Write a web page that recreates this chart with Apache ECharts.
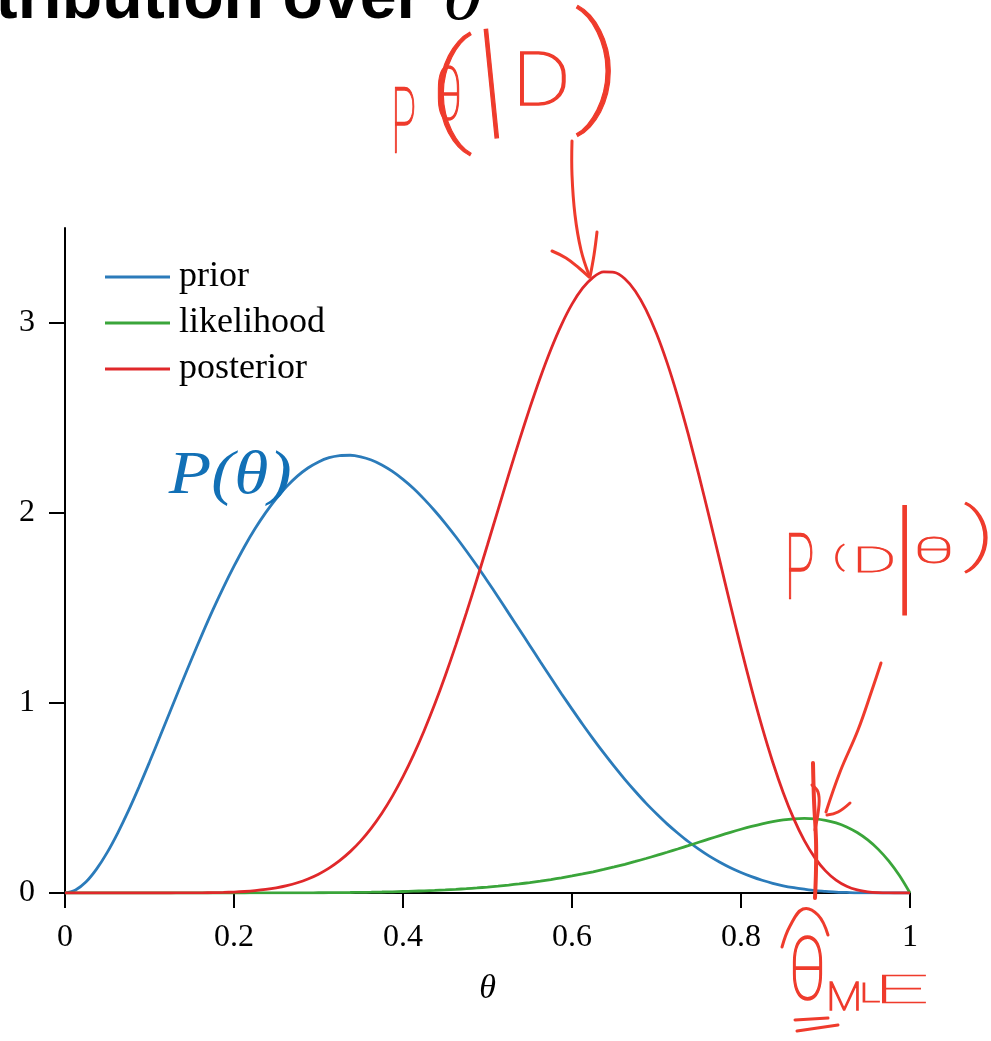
<!DOCTYPE html>
<html>
<head>
<meta charset="utf-8">
<script src="https://cdn.jsdelivr.net/npm/echarts@6/dist/echarts.min.js"></script>
<style>
  html, body { margin: 0; padding: 0; background: #ffffff; }
  #chart { width: 991px; height: 1041px; }
</style>
</head>
<body>
<div id="chart"></div>
<script>
// Sample positions along θ (one row per 0.1) and the three densities read at each of them
const theta = [
  0, 0.0125, 0.025, 0.0375, 0.05, 0.0625, 0.075, 0.0875,
  0.1, 0.1125, 0.125, 0.1375, 0.15, 0.1625, 0.175, 0.1875,
  0.2, 0.2125, 0.225, 0.2375, 0.25, 0.2625, 0.275, 0.2875,
  0.3, 0.3125, 0.325, 0.3375, 0.35, 0.3625, 0.375, 0.3875,
  0.4, 0.4125, 0.425, 0.4375, 0.45, 0.4625, 0.475, 0.4875,
  0.5, 0.5125, 0.525, 0.5375, 0.55, 0.5625, 0.575, 0.5875,
  0.6, 0.6125, 0.625, 0.6375, 0.65, 0.6625, 0.675, 0.6875,
  0.7, 0.7125, 0.725, 0.7375, 0.75, 0.7625, 0.775, 0.7875,
  0.8, 0.8125, 0.825, 0.8375, 0.85, 0.8625, 0.875, 0.8875,
  0.9, 0.9125, 0.925, 0.9375, 0.95, 0.9625, 0.975, 0.9875,
  1];

const prior = [
  0, 0.016, 0.059, 0.127, 0.214, 0.317, 0.432, 0.557,
  0.689, 0.825, 0.962, 1.099, 1.233, 1.364, 1.490, 1.609,
  1.720, 1.824, 1.918, 2.002, 2.076, 2.140, 2.194, 2.237,
  2.269, 2.291, 2.302, 2.304, 2.296, 2.279, 2.253, 2.219,
  2.177, 2.129, 2.073, 2.012, 1.946, 1.875, 1.800, 1.722,
  1.641, 1.558, 1.473, 1.388, 1.303, 1.217, 1.133, 1.049,
  0.968, 0.888, 0.811, 0.737, 0.666, 0.598, 0.534, 0.473,
  0.417, 0.364, 0.316, 0.271, 0.231, 0.194, 0.162, 0.133,
  0.108, 0.086, 0.067, 0.051, 0.038, 0.028, 0.020, 0.013,
  0.009, 0.005, 0.003, 0.001, 0.001, 0, 0, 0,
  0];

const likelihood = [
  0, 0, 0, 0, 0, 0, 0, 0,
  0, 0, 0, 0, 0, 0, 0, 0,
  0.0001, 0.0001, 0.0002, 0.0003, 0.0004, 0.0005, 0.0007, 0.0009,
  0.0012, 0.0016, 0.0021, 0.0026, 0.0034, 0.0042, 0.0052, 0.0064,
  0.0079, 0.0096, 0.0115, 0.0138, 0.0164, 0.0195, 0.0229, 0.0268,
  0.0313, 0.0362, 0.0418, 0.0480, 0.0548, 0.0624, 0.0707, 0.0797,
  0.0896, 0.1003, 0.1118, 0.1241, 0.1373, 0.1512, 0.1660, 0.1815,
  0.1976, 0.2144, 0.2316, 0.2492, 0.2670, 0.2847, 0.3023, 0.3193,
  0.3355, 0.3506, 0.3642, 0.3757, 0.3847, 0.3906, 0.3927, 0.3903,
  0.3826, 0.3688, 0.3477, 0.3183, 0.2793, 0.2296, 0.1675, 0.0916,
  0];

const posterior = [
  0, 0, 0, 0, 0, 0, 0, 0,
  0, 0, 0.0001, 0.0003, 0.0005, 0.0010, 0.0018, 0.0031,
  0.0050, 0.0080, 0.0124, 0.0186, 0.0272, 0.0388, 0.0541, 0.0740,
  0.0993, 0.1311, 0.1702, 0.2177, 0.2746, 0.3418, 0.4200, 0.5100,
  0.6121, 0.7268, 0.8539, 0.9931, 1.1436, 1.3045, 1.4743, 1.6512,
  1.8329, 2.0168, 2.2002, 2.3796, 2.5520, 2.7136, 2.8609, 2.9904,
  3.0991, 3.1833, 3.2407, 3.2691, 3.2668, 3.2330, 3.1675, 3.0708,
  2.9448, 2.7913, 2.6138, 2.4159, 2.2020, 1.9771, 1.7465, 1.5157,
  1.2898, 1.0740, 0.8726, 0.6897, 0.5282, 0.3899, 0.2755, 0.1849,
  0.1163, 0.0676, 0.0353, 0.0160, 0.0059, 0.0016, 0.0002, 0,
  0];

const seriesNames = ['prior', 'likelihood', 'posterior'];
const seriesColors = ['#2b7bba', '#3aa53a', '#e0282a'];
const yTickValues = [0, 1, 2, 3];

const INK = '#ef3b2c';
const SERIF = '"Liberation Serif", "DejaVu Serif", serif';
const PEN = { family: 'Roboto, "Open Sans", sans-serif', weight: 100 };

// Text fitted into a pixel box: the glyph ink is measured, then scaled and centred on the box
const measure = document.createElement('canvas').getContext('2d');
function fitText(str, box, font, color, opt) {
  opt = opt || {};
  const fs = 100;
  const style = font.style || 'normal';
  const weight = font.weight || 'normal';
  measure.font = style + ' ' + weight + ' ' + fs + 'px ' + font.family;
  measure.textAlign = 'left';
  measure.textBaseline = 'middle';
  const m = measure.measureText(str);
  const l = m.actualBoundingBoxLeft, r = m.actualBoundingBoxRight;
  const a = m.actualBoundingBoxAscent, d = m.actualBoundingBoxDescent;
  let sx = (box[2] - box[0]) / (l + r);
  let sy = (box[3] - box[1]) / (a + d);
  if (opt.uniform) sx = sy;
  if (opt.maxStretch && sx > sy * opt.maxStretch) sx = sy * opt.maxStretch;
  const ox = (r - l) / 2, oy = (d - a) / 2;
  const cx = (box[0] + box[2]) / 2, cy = (box[1] + box[3]) / 2;
  const penWidth = opt.pen ? opt.pen / Math.max(sx, sy) : 0;
  return {
    type: 'text', silent: true, z: 100,
    x: cx - ox, y: cy - oy, originX: ox, originY: oy,
    scaleX: sx, scaleY: sy, rotation: opt.rotation || 0,
    style: {
      text: str, fontFamily: font.family, fontSize: fs, fontWeight: weight, fontStyle: style,
      fill: color, align: 'left', verticalAlign: 'middle',
      stroke: penWidth ? color : null, lineWidth: penWidth, lineJoin: 'round'
    }
  };
}

function stroke(points, width, smooth) {
  return {
    type: 'polyline', silent: true, z: 100,
    shape: { points: points, smooth: smooth == null ? 0.4 : smooth },
    style: { stroke: INK, lineWidth: width || 3, fill: null, lineCap: 'round', lineJoin: 'round' }
  };
}

function pen(str, box, opt) {
  return fitText(str, box, PEN, INK, Object.assign({ pen: 1.6 }, opt || {}));
}

const notes = [
  // heading running off the top edge
  fitText('tribution over', [0, -30, 418, 19], { family: '"Liberation Sans", Arial, sans-serif', weight: 'bold' }, '#000', { uniform: true }),
  fitText('θ', [446, -26, 481, 20], { family: SERIF, style: 'italic' }, '#000'),

  // prior label
  fitText('P(θ)', [168, 450, 290, 507], { family: SERIF, style: 'italic' }, '#1270b6'),

  // P(θ|D) with arrow to the posterior peak
  pen('P', [395, 88, 414, 152]),
  pen('(', [427, 32, 484, 157], { maxStretch: 1.25, pen: 1.2 }),
  pen('θ', [438, 66, 459, 120]),
  pen('|', [486, 28, 496, 138], { uniform: true, rotation: 0.1, pen: 1.2 }),
  pen('D', [520, 52, 565, 105]),
  pen(')', [565, 5, 622, 138], { maxStretch: 1.25, pen: 1.2 }),
  stroke([[572, 141], [572, 175], [575, 215], [581, 250], [589, 275]]),
  stroke([[552, 251], [566, 258], [579, 268], [589, 277]]),
  stroke([[597, 232], [594, 255], [590, 277]]),

  // P(D|θ) with arrow to the likelihood peak
  pen('P', [789, 533, 812, 598]),
  pen('(', [832, 545, 848, 571], { maxStretch: 1.5 }),
  pen('D', [858, 547, 892, 572]),
  pen('|', [902, 505, 907, 615], { uniform: true, pen: 1.2 }),
  pen('θ', [918, 535, 950, 563]),
  pen(')', [962, 502, 990, 573], { maxStretch: 1.5 }),
  stroke([[881, 663], [872, 690], [858, 730], [840, 772], [826, 812]]),
  stroke([[850, 803], [838, 812], [827, 815]]),

  // maximum-likelihood estimate marker
  stroke([[813, 763], [814, 800], [816, 840], [816, 870], [815, 898]], 4),
  stroke([[812, 785], [818, 792], [819, 805], [815, 830]], 3),
  stroke([[782, 947], [790, 926], [803, 909], [818, 915], [828, 935]]),
  pen('θ', [793, 935, 822, 1000]),
  pen('M', [830, 982, 858, 1010]),
  pen('L', [863, 983, 879, 1002]),
  pen('E', [882, 975, 926, 1003]),
  stroke([[795, 1020], [828, 1018]], 3, 0),
  stroke([[797, 1031], [838, 1025]], 3, 0)
];

const pairs = (ys) => theta.map((t, i) => [t, ys[i]]);
const seriesData = [prior, likelihood, posterior];

const chart = echarts.init(document.getElementById('chart'), null, { renderer: 'canvas' });
chart.setOption({
  animation: false,
  backgroundColor: '#ffffff',
  grid: { left: 65, right: 81, top: 228, bottom: 148, containLabel: false },
  legend: {
    data: seriesNames,
    orient: 'vertical',
    left: 105,
    top: 259,
    padding: 0,
    icon: 'rect',
    itemWidth: 65,
    itemHeight: 3,
    itemGap: 10,
    textStyle: { fontFamily: SERIF, fontSize: 36, lineHeight: 36, color: '#000', padding: [0, 0, 0, 4] }
  },
  xAxis: {
    type: 'value',
    min: 0, max: 1, interval: 0.2,
    name: 'θ',
    nameLocation: 'middle',
    nameGap: 79,
    nameTextStyle: { fontFamily: SERIF, fontStyle: 'italic', fontSize: 34, color: '#000' },
    axisLine: { show: true, onZero: false, lineStyle: { color: '#000', width: 2 } },
    axisTick: { show: true, length: 15, lineStyle: { color: '#000', width: 2 } },
    axisLabel: { margin: 29, fontFamily: SERIF, fontSize: 32, color: '#000' },
    splitLine: { show: false }
  },
  yAxis: {
    type: 'value',
    min: 0, max: 3.5,
    axisLine: { show: true, onZero: false, lineStyle: { color: '#000', width: 2 } },
    axisTick: { show: true, length: 16, customValues: yTickValues, lineStyle: { color: '#000', width: 2 } },
    axisLabel: { margin: 30, customValues: yTickValues, fontFamily: SERIF, fontSize: 32, color: '#000' },
    splitLine: { show: false }
  },
  series: seriesNames.map((name, i) => ({
    name: name,
    type: 'line',
    data: pairs(seriesData[i]),
    smooth: 0.3,
    symbol: 'none',
    showSymbol: false,
    color: seriesColors[i],
    lineStyle: { color: seriesColors[i], width: 2.8 },
    z: 2 + i
  })),
  graphic: { elements: notes }
});
</script>
</body>
</html>
